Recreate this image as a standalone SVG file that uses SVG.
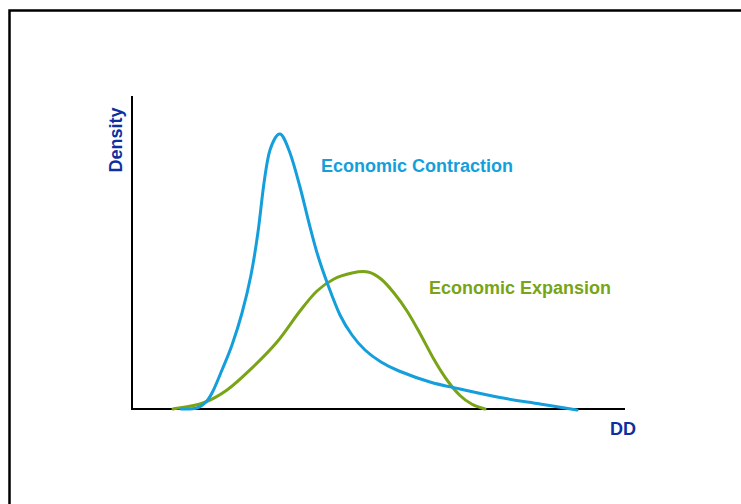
<svg xmlns="http://www.w3.org/2000/svg" width="741" height="504" viewBox="0 0 741 504">
  <style>
    .lbl { font-family: "Liberation Sans", Arial, sans-serif; font-weight: bold; font-size: 18px; }
    .axislbl { fill: #0d2fa0; }
    .axis { stroke: #000; stroke-width: 2; fill: none; }
    .curve { fill: none; stroke-width: 3; stroke-linecap: round; stroke-linejoin: round; }
    .blue { stroke: #149fdc; }
    .green { stroke: #78a416; }
  </style>
  <rect x="0" y="0" width="741" height="504" fill="#fff"/>
  <rect id="frame" x="9.5" y="10.5" width="800" height="600" fill="none" stroke="#000" stroke-width="2.5"/>
  <g id="axes">
    <line class="axis" x1="132" y1="96" x2="132" y2="410"/>
    <line class="axis" x1="131" y1="409" x2="625" y2="409"/>
  </g>
  <g id="curves">
    <path id="expansion-curve" class="curve green" d="M173,409 C178,408 194,406.17 203,403 C212,399.83 218.67,396 227,390 C235.33,384 244.67,375 253,367 C261.33,359 269.17,351.33 277,342 C284.83,332.67 293.33,319.5 300,311 C306.67,302.5 311.33,296.33 317,291 C322.67,285.67 328.17,282 334,279 C339.83,276 346.33,274.17 352,273 C357.67,271.83 363.17,271 368,272 C372.83,273 376.67,275.5 381,279 C385.33,282.5 389.67,287.67 394,293 C398.33,298.33 402.67,304.25 407,311 C411.33,317.75 415.5,325.42 420,333.5 C424.5,341.58 429.5,351.75 434,359.5 C438.5,367.25 442.67,374 447,380 C451.33,386 455.83,391.45 460,395.5 C464.17,399.55 467.83,402.05 472,404.3 C476.17,406.55 482.83,408.22 485,409"/>
    <path id="contraction-curve" class="curve blue" d="M181,409 C183.5,408.88 191.83,409.47 196,408.3 C200.17,407.13 203.17,404.88 206,402 C208.83,399.12 210.33,396.33 213,391 C215.67,385.67 218.83,377.67 222,370 C225.17,362.33 228.67,354.5 232,345 C235.33,335.5 238.83,324.67 242,313 C245.17,301.33 248.33,288.5 251,275 C253.67,261.5 255.83,247.33 258,232 C260.17,216.67 262,196.67 264,183 C266,169.33 267.33,158.17 270,150 C272.67,141.83 276.67,133.5 280,134 C283.33,134.5 286.67,144.17 290,153 C293.33,161.83 296.83,175.33 300,187 C303.17,198.67 306,211.5 309,223 C312,234.5 314.83,245.67 318,256 C321.17,266.33 324.33,275.17 328,285 C331.67,294.83 336,306.67 340,315 C344,323.33 347.83,329.17 352,335 C356.17,340.83 360.17,345.5 365,350 C369.83,354.5 375.33,358.5 381,362 C386.67,365.5 390.83,367.67 399,371 C407.17,374.33 419.83,379 430,382 C440.17,385 448.33,386.42 460,389 C471.67,391.58 486.67,395 500,397.5 C513.33,400 527.17,401.92 540,404 C552.83,406.08 570.83,409 577,410"/>
  </g>
  <g id="label-density">
    <text class="lbl axislbl" transform="translate(122,140) rotate(-90)" text-anchor="middle">Density</text>
  </g>
  <g id="label-dd">
    <text class="lbl axislbl" x="610" y="435">DD</text>
  </g>
  <g id="label-contraction">
    <text class="lbl" fill="#149fdc" x="321" y="172">Economic Contraction</text>
  </g>
  <g id="label-expansion">
    <text class="lbl" fill="#78a416" x="429" y="294">Economic Expansion</text>
  </g>
</svg>
